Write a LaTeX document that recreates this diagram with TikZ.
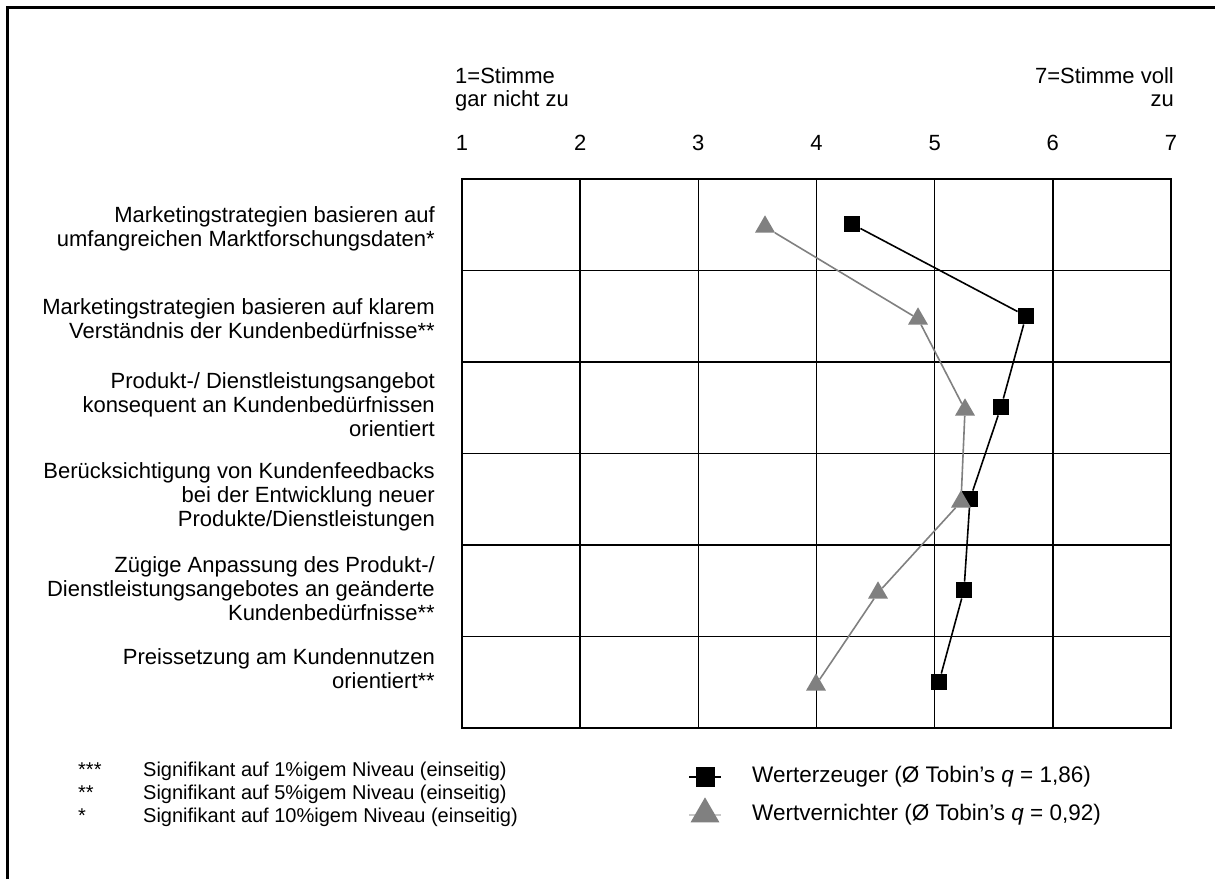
\documentclass[tikz,border=0pt]{standalone}
\usepackage{fontspec}
\setmainfont{Liberation Sans}
\usetikzlibrary{shapes.geometric}
\definecolor{seriesgray}{RGB}{128,128,128}
\definecolor{legendgray}{RGB}{200,200,200}
\tikzset{
  lbl/.style={font=\fontsize{22}{24}\selectfont, align=right, anchor=east, inner sep=0pt},
  hdr/.style={font=\fontsize{22}{24}\selectfont, inner sep=0pt},
  tick/.style={font=\fontsize{22}{24}\selectfont, inner sep=0pt, anchor=center},
  note/.style={font=\fontsize{20}{24}\selectfont, inner sep=0pt, anchor=base west},
  legtext/.style={font=\fontsize{22.5}{24}\selectfont, inner sep=0pt, anchor=west},
  gridline/.style={line width=1.6pt, black},
  sqmark/.style={rectangle, fill=black, minimum size=16.5pt, inner sep=0pt},
  trimark/.style={regular polygon, regular polygon sides=3, fill=seriesgray,
                  minimum size=23pt, inner sep=0pt, yshift=-2.8pt},
  blackseries/.style={line width=1.6pt, black},
  grayseries/.style={line width=1.6pt, seriesgray},
}
\begin{document}
\begin{tikzpicture}[x=1pt,y=-1pt]
\useasboundingbox (0,0) rectangle (1215,879);

% outer frame (top and left edges)
\draw[line width=3pt] (7,879) -- (7,7) -- (1215,7);

% scale headings
\node[hdr, anchor=base west] (lowA) at (455,83) {1=Stimme};
\node[hdr, anchor=base west] (lowB) at (455,106) {gar nicht zu};
\node[hdr, anchor=base east] (highA) at (1174,83) {7=Stimme voll};
\node[hdr, anchor=base east] (highB) at (1174,106) {zu};

% scale numbers
\foreach \v [count=\i from 0] in {1,...,7}
  \node[tick] (n\v) at ({462+118.17*\i},143) {\v};

% grid
\foreach \i in {1,...,5}
  \draw[gridline] ({462+118.17*\i},179) -- ({462+118.17*\i},728);
\foreach \j in {1,...,5}
  \draw[gridline] (462,{179+91.5*\j}) -- (1171,{179+91.5*\j});
\draw[line width=2pt] (462,179) rectangle (1171,728);

% statements
\node[lbl] (r1) at (435,229) {Marketingstrategien basieren auf\\umfangreichen Marktforschungsdaten*};
\node[lbl] (r2) at (435,319) {Marketingstrategien basieren auf klarem\\Verständnis der Kundenbedürfnisse**};
\node[lbl] (r3) at (435,405) {Produkt-/ Dienstleistungsangebot\\konsequent an Kundenbedürfnissen\\orientiert};
\node[lbl] (r4) at (435,497) {Berücksichtigung von Kundenfeedbacks\\bei der Entwicklung neuer\\Produkte/Dienstleistungen};
\node[lbl] (r5) at (435,589) {Zügige Anpassung des Produkt-/\\Dienstleistungsangebotes an geänderte\\Kundenbedürfnisse**};
\node[lbl] (r6) at (435,669) {Preissetzung am Kundennutzen\\orientiert**};

% series: Werterzeuger
\node[sqmark] (s1) at (852,224) {};
\node[sqmark] (s2) at (1026,316) {};
\node[sqmark] (s3) at (1001,407) {};
\node[sqmark] (s4) at (970,499) {};
\node[sqmark] (s5) at (964,590) {};
\node[sqmark] (s6) at (939,682) {};
\draw[blackseries] (s1) -- (s2) -- (s3) -- (s4) -- (s5) -- (s6);

% series: Wertvernichter
\node[trimark] (t1) at (765,224) {};
\node[trimark] (t2) at (918,316) {};
\node[trimark] (t3) at (965,407) {};
\node[trimark] (t4) at (961,499) {};
\node[trimark] (t5) at (878,590) {};
\node[trimark] (t6) at (816,682) {};
\draw[grayseries] (t1) -- (t2) -- (t3) -- (t4) -- (t5) -- (t6);

% significance notes
\node[note] (a3) at (78,776) {***};
\node[note] (a2) at (78,799) {**};
\node[note] (a1) at (78,822) {*};
\node[note] (f3) at (143,776) {Signifikant auf 1\%igem Niveau (einseitig)};
\node[note] (f2) at (143,799) {Signifikant auf 5\%igem Niveau (einseitig)};
\node[note] (f1) at (143,822) {Signifikant auf 10\%igem Niveau (einseitig)};

% legend
\coordinate (lkA) at (689,777);
\coordinate (lkB) at (721,777);
\draw[line width=2.2pt, black] (lkA) -- (lkB);
\node[rectangle, fill=black, minimum width=19pt, minimum height=20pt, inner sep=0pt] (lsq) at (705,777) {};
\coordinate (lgA) at (689,815);
\coordinate (lgB) at (721,815);
\draw[line width=2.2pt, legendgray] (lgA) -- (lgB);
\node[isosceles triangle, isosceles triangle apex angle=60, shape border rotate=90,
      fill=seriesgray, minimum width=28pt, minimum height=25pt, inner sep=0pt] (ltri) at (705,814) {};
\node[legtext] (lt1) at (752,777) {Werterzeuger (Ø Tobin’s \textit{q} = 1,86)};
\node[legtext] (lt2) at (752,815) {Wertvernichter (Ø Tobin’s \textit{q} = 0,92)};
\end{tikzpicture}
\end{document}
